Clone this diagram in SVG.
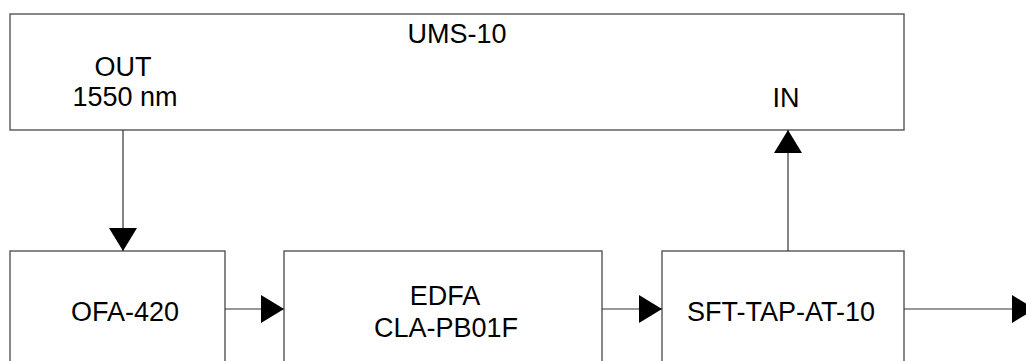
<svg xmlns="http://www.w3.org/2000/svg" width="1026" height="361" viewBox="0 0 1026 361">
<style>
.box{fill:#fff;stroke:#555;stroke-width:1.4}
.t{font-family:"Liberation Sans",Arial,sans-serif;font-size:27px;fill:#000;text-anchor:middle}
.c{stroke:#333;stroke-width:1.2;fill:none}
</style>
<defs>
<marker id="ah" markerUnits="userSpaceOnUse" markerWidth="24" markerHeight="28" refX="23" refY="14" orient="auto">
<path d="M0,0 L23,14 L0,28 Z" fill="#000"/>
</marker>
</defs>
<rect width="1026" height="361" fill="#fff"/>
<g id="ums10">
<rect class="box" x="10" y="14" width="894" height="116"/>
<text class="t" x="457" y="43">UMS-10</text>
<text class="t" x="123" y="76">OUT</text>
<text class="t" x="125" y="106">1550 nm</text>
<text class="t" x="786" y="107">IN</text>
</g>
<g id="ofa420">
<rect class="box" x="10" y="251" width="215" height="130"/>
<text class="t" x="125" y="321">OFA-420</text>
</g>
<g id="edfa">
<rect class="box" x="284" y="251" width="318" height="130"/>
<text class="t" x="445" y="305">EDFA</text>
<text class="t" x="446" y="337">CLA-PB01F</text>
</g>
<g id="sft">
<rect class="box" x="662" y="251" width="242" height="130"/>
<text class="t" x="781" y="321">SFT-TAP-AT-10</text>
</g>
<g id="connectors">
<line class="c" x1="123" y1="130" x2="123" y2="251" marker-end="url(#ah)"/>
<line class="c" x1="788" y1="251" x2="788" y2="130" marker-end="url(#ah)"/>
<line class="c" x1="225" y1="309" x2="284" y2="309" marker-end="url(#ah)"/>
<line class="c" x1="602" y1="309" x2="662" y2="309" marker-end="url(#ah)"/>
<line class="c" x1="904" y1="309" x2="1035" y2="309" marker-end="url(#ah)"/>
</g>
</svg>
